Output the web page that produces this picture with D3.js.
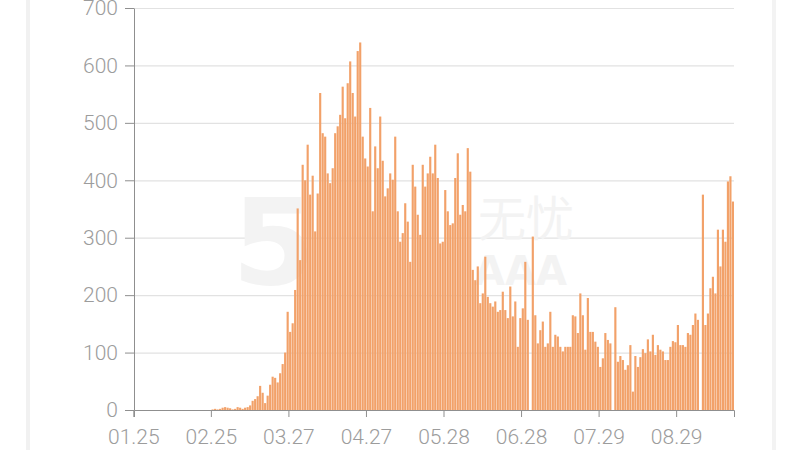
<!DOCTYPE html>
<html>
<head>
<meta charset="utf-8">
<script src="https://cdn.jsdelivr.net/npm/d3@7"></script>
<style>
  html, body { margin: 0; padding: 0; background: #fff; }
  svg { display: block; }
  .axis text { font-family: Roboto, "Liberation Sans", sans-serif; font-weight: 300; font-size: 21px; fill: #9c9c9c; }
  .axis path, .axis line { stroke: #8f8f8f; }
</style>
</head>
<body>
<svg id="chart" width="800" height="450"></svg>
<script>
// daily counts, 2020-01-25 .. 2020-09-20, one array per month
const janCounts = [0, 0, 0, 0, 0, 0, 0];
const febCounts = [0, 0, 0, 0, 0, 0, 0, 0, 0, 0, 0, 0, 0, 0, 0, 0, 0, 0, 0, 0, 0, 0, 0, 0, 1, 2, 1, 2, 4];
const marCounts = [5, 4, 3, 1, 2, 5, 4, 2, 4, 5, 8, 16, 19, 24, 42, 30, 12, 25, 44, 58, 56, 48, 64, 80, 100, 171, 136, 151, 209, 351, 261];
const aprCounts = [427, 400, 462, 375, 408, 311, 377, 552, 482, 476, 412, 395, 421, 482, 494, 514, 563, 508, 569, 607, 552, 511, 625, 640, 476, 438, 424, 526, 346, 459];
const mayCounts = [421, 511, 434, 372, 386, 412, 401, 476, 346, 293, 308, 360, 328, 258, 427, 389, 340, 305, 427, 389, 412, 441, 412, 462, 404, 290, 293, 383, 346, 322, 325];
const junCounts = [404, 447, 340, 357, 346, 456, 415, 244, 226, 250, 186, 203, 267, 197, 186, 180, 189, 171, 174, 206, 174, 160, 215, 163, 189, 110, 160, 177, 258, 157];
const julCounts = [0, 302, 165, 116, 139, 154, 110, 116, 171, 110, 131, 128, 110, 102, 110, 110, 110, 165, 163, 134, 203, 165, 105, 195, 136, 136, 119, 110, 75, 90, 134];
const augCounts = [122, 116, 0, 179, 84, 94, 87, 70, 78, 113, 32, 94, 75, 92, 106, 99, 123, 102, 131, 96, 113, 105, 102, 87, 87, 110, 120, 118, 148, 113, 113];
const sepCounts = [110, 134, 131, 148, 168, 157, 0, 375, 148, 168, 212, 232, 203, 314, 250, 314, 293, 398, 407, 363];

const xTickLabels = ['01.25', '02.25', '03.27', '04.27', '05.28', '06.28', '07.29', '08.29'];
const yTickValues = [0, 100, 200, 300, 400, 500, 600, 700];

const counts = [].concat(janCounts, febCounts, marCounts, aprCounts, mayCounts,
  junCounts, julCounts, augCounts, sepCounts);
const startDate = new Date(2020, 0, 25);
const fmt = d3.timeFormat('%m.%d');
const days = d3.timeDay.range(startDate, d3.timeDay.offset(startDate, counts.length)).map(fmt);
const data = days.map((d, i) => ({ day: d, value: counts[i] }));

const svg = d3.select('#chart');
const plotLeft = 134, plotRight = 734, plotTop = 8, plotBottom = 410;

// card edges
svg.append('rect').attr('x', 26).attr('y', 0).attr('width', 4).attr('height', 450).attr('fill', '#f1f1f1');
svg.append('rect').attr('x', 772).attr('y', 0).attr('width', 4).attr('height', 450).attr('fill', '#f3f3f3');

const x = d3.scaleBand().domain(days).range([plotLeft, plotRight]).paddingInner(0.14).paddingOuter(0);
const y = d3.scaleLinear().domain([0, 700]).range([plotBottom, plotTop]);

// grid
svg.append('g')
  .selectAll('line')
  .data(yTickValues.slice(1))
  .enter()
  .append('line')
  .attr('x1', plotLeft)
  .attr('x2', plotRight)
  .attr('y1', d => y(d) + 0.5)
  .attr('y2', d => y(d) + 0.5)
  .attr('stroke', '#e2e2e2')
  .attr('stroke-width', 1.2);

// watermark
const wm = svg.append('g').attr('fill', '#f3f3f3');
wm.append('text').attr('x', 232).attr('y', 284).attr('font-family', 'DejaVu Sans')
  .attr('font-weight', 'bold').attr('font-size', 120).text('5');
wm.append('text').attr('x', 478).attr('y', 236).attr('font-family', '"Noto Sans CJK SC"')
  .attr('font-size', 48).text('无忧');
wm.append('text').attr('x', 474).attr('y', 285).attr('font-family', 'DejaVu Sans')
  .attr('font-weight', 'bold').attr('font-size', 40).text('AAA');

// bars
svg.append('g')
  .selectAll('rect')
  .data(data)
  .enter()
  .append('rect')
  .attr('x', d => x(d.day))
  .attr('y', d => y(d.value))
  .attr('width', x.bandwidth())
  .attr('height', d => plotBottom - y(d.value))
  .attr('fill', '#f2a169');

// axes
const xAxis = svg.append('g')
  .attr('class', 'axis')
  .attr('transform', `translate(${-x.step() / 2},${plotBottom})`)
  .call(d3.axisBottom(x).tickValues(xTickLabels).tickSize(7).tickSizeOuter(0).tickPadding(12));
xAxis.select('.domain').remove();
svg.append('g')
  .attr('class', 'axis')
  .attr('transform', `translate(0,${plotBottom})`)
  .call(d3.axisBottom(d3.scaleLinear().range([plotLeft, plotRight])).tickValues([]).tickSizeOuter(7));

svg.append('g')
  .attr('class', 'axis')
  .attr('transform', `translate(${plotLeft},0)`)
  .call(d3.axisLeft(y).tickValues(yTickValues).tickSize(9).tickSizeOuter(0).tickPadding(7));
</script>
</body>
</html>
